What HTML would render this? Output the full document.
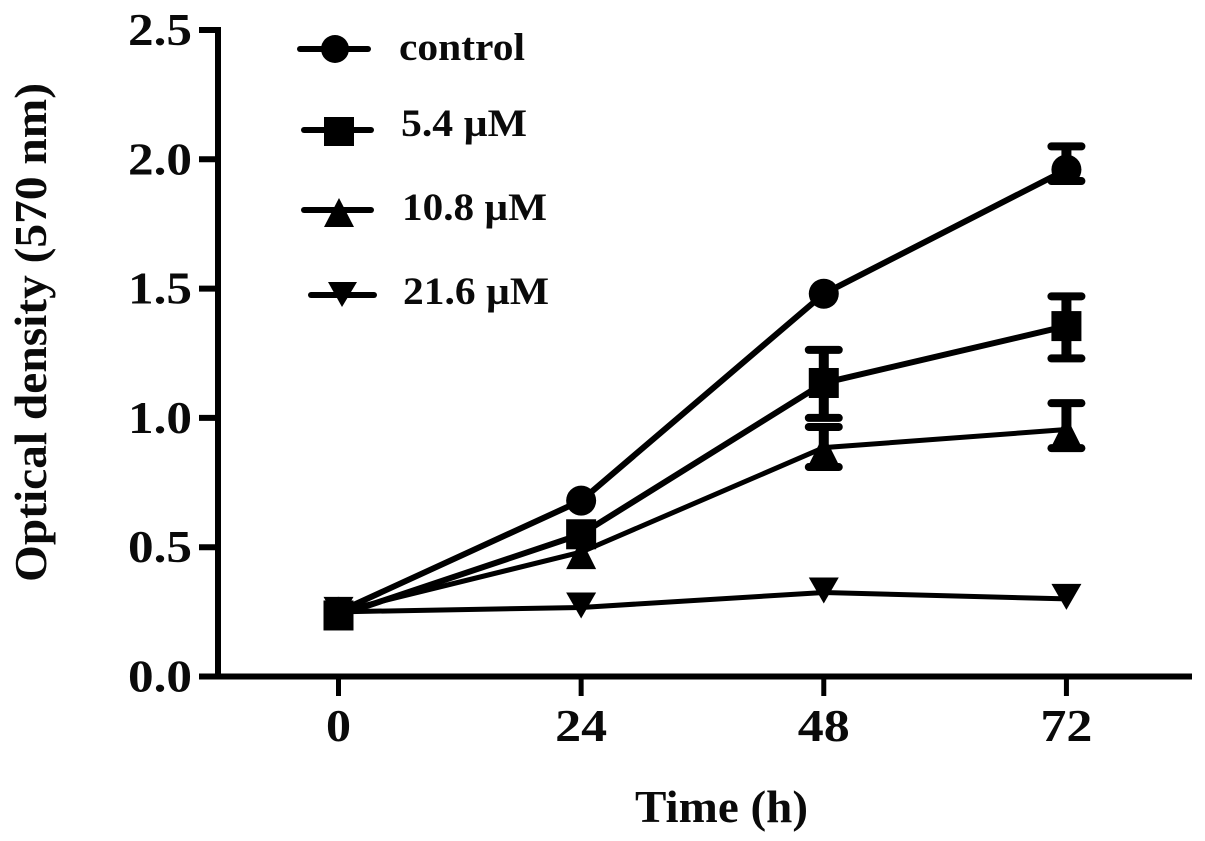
<!DOCTYPE html>
<html lang="en">
<head>
<meta charset="utf-8">
<title>Optical density over time</title>
<style>
html,body{margin:0;padding:0;background:#fff;width:1205px;height:841px;overflow:hidden}
svg{display:block}
text{font-family:"Liberation Serif",serif;font-weight:bold;fill:#0a0a0a}
</style>
</head>
<body>
<svg id="chart" width="1205" height="841" viewBox="0 0 1205 841" xmlns="http://www.w3.org/2000/svg">
<rect x="0" y="0" width="1205" height="841" fill="#fff"/>
<text transform="translate(46,582) rotate(-90)" font-size="46" textLength="499" lengthAdjust="spacingAndGlyphs">Optical density (570 nm)</text>
<text x="635" y="822" font-size="46" textLength="173" lengthAdjust="spacingAndGlyphs">Time (h)</text>
<g id="axes"></g>
<g id="series"></g>
<g id="legend">
<g>
<line x1="300" y1="49" x2="368" y2="49" stroke="#000" stroke-width="6" stroke-linecap="round"/>
<circle cx="335" cy="49" r="14" fill="#000"/>
<text x="399" y="60" font-size="39" textLength="126" lengthAdjust="spacingAndGlyphs">control</text>
</g>
<g>
<line x1="304" y1="130" x2="371" y2="130" stroke="#000" stroke-width="6" stroke-linecap="round"/>
<rect x="324" y="117" width="30" height="29" fill="#000"/>
<text x="401" y="136" font-size="39" textLength="126" lengthAdjust="spacingAndGlyphs">5.4 µM</text>
</g>
<g>
<line x1="304" y1="210" x2="371" y2="210" stroke="#000" stroke-width="6" stroke-linecap="round"/>
<polygon points="339,198 354,227 324,227" fill="#000"/>
<text x="402" y="220" font-size="39" textLength="145" lengthAdjust="spacingAndGlyphs">10.8 µM</text>
</g>
<g>
<line x1="311" y1="295" x2="374" y2="295" stroke="#000" stroke-width="6" stroke-linecap="round"/>
<polygon points="328,282 357,282 342,307" fill="#000"/>
<text x="403" y="304" font-size="39" textLength="146" lengthAdjust="spacingAndGlyphs">21.6 µM</text>
</g>
</g>
</svg>
<script>
var hours = [0, 24, 48, 72];
var yTicks = [0, 0.5, 1, 1.5, 2, 2.5];
var yTickLabels = ['0.0', '0.5', '1.0', '1.5', '2.0', '2.5'];
var xTickLabels = ['0', '24', '48', '72'];

var control = [0.25, 0.68, 1.48, 1.96];
var controlHigh = [0.25, 0.68, 1.48, 2.05];
var controlLow = [0.25, 0.68, 1.48, 1.916];

var dose54 = [0.236, 0.55, 1.135, 1.355];
var dose54High = [0.236, 0.55, 1.263, 1.47];
var dose54Low = [0.236, 0.55, 1.0, 1.23];

var dose108 = [0.25, 0.481, 0.885, 0.955];
var dose108High = [0.25, 0.481, 0.965, 1.057];
var dose108Low = [0.25, 0.481, 0.81, 0.883];

var dose216 = [0.25, 0.267, 0.325, 0.30];
var dose216High = [0.25, 0.267, 0.325, 0.30];
var dose216Low = [0.25, 0.267, 0.325, 0.30];

var NS = 'http://www.w3.org/2000/svg';
function xScale(h) { return 338.5 + h * 10.11; }
function yScale(v) { return 676.5 - v * 258.6; }
function make(tag, parent, attrs) {
  var el = document.createElementNS(NS, tag);
  for (var k in attrs) el.setAttribute(k, attrs[k]);
  parent.appendChild(el);
  return el;
}
var axes = document.getElementById('axes');
var seriesRoot = document.getElementById('series');
var black = '#000';
var el;

el = make('line', axes, {x1: 218, y1: yScale(2.5) - 3, x2: 218, y2: yScale(0) + 3, stroke: black, 'stroke-width': 6});


el = make('line', axes, {x1: 199, y1: yScale(0), x2: 1192, y2: yScale(0), stroke: black, 'stroke-width': 6});



yTicks.forEach(function (v, i) {
  var t = make('line', axes, {x1: 199, y1: yScale(v), x2: 218, y2: yScale(v), stroke: black, 'stroke-width': 6});
  
  
  var lab = make('text', axes, {x: 128, y: yScale(v) + 15, 'font-size': 46, textLength: 64, lengthAdjust: 'spacingAndGlyphs'});
  lab.textContent = yTickLabels[i];
  
  
});

hours.forEach(function (h, i) {
  var t = make('line', axes, {x1: xScale(h), y1: yScale(0), x2: xScale(h), y2: 696, stroke: black, 'stroke-width': 5});
  
  
  var w = xTickLabels[i].length === 1 ? 25 : 52;
  var lab = make('text', axes, {x: xScale(h) - w / 2, y: 741, 'font-size': 46, textLength: w, lengthAdjust: 'spacingAndGlyphs'});
  lab.textContent = xTickLabels[i];
  
  
});

function marker(kind, g, x, y) {
  if (kind === 'circle') return make('circle', g, {cx: x, cy: y, r: 15, fill: black});
  if (kind === 'square') return make('rect', g, {x: x - 15, y: y - 15, width: 30, height: 30, fill: black});
  if (kind === 'up') return make('polygon', g, {points: (x) + ',' + (y - 13) + ' ' + (x + 15) + ',' + (y + 17) + ' ' + (x - 15) + ',' + (y + 17), fill: black});
  return make('polygon', g, {points: (x - 15) + ',' + (y - 15) + ' ' + (x + 15) + ',' + (y - 15) + ' ' + x + ',' + (y + 11), fill: black});
}

function drawSeries(name, kind, width, values, high, low) {
  var g = make('g', seriesRoot, {});
  
  
  var pts = values.map(function (v, i) { return xScale(hours[i]) + ',' + yScale(v); }).join(' ');
  var line = make('polyline', g, {points: pts, fill: 'none', stroke: black, 'stroke-width': width});
  
  
  values.forEach(function (v, i) {
    var x = xScale(hours[i]);
    if (high[i] !== low[i]) {
      var stem = make('line', g, {x1: x, y1: yScale(high[i]), x2: x, y2: yScale(low[i]), stroke: black, 'stroke-width': 10});
      
      
      [high[i], low[i]].forEach(function (e) {
        var cap = make('line', g, {x1: x - 15, y1: yScale(e), x2: x + 15, y2: yScale(e), stroke: black, 'stroke-width': 8, 'stroke-linecap': 'round'});
        
        
      });
    }
    var m = marker(kind, g, x, yScale(v));
    
    
  });
}

drawSeries('control', 'circle', 6, control, controlHigh, controlLow);
drawSeries('dose-21-6', 'down', 5, dose216, dose216High, dose216Low);
drawSeries('dose-10-8', 'up', 5, dose108, dose108High, dose108Low);
drawSeries('dose-5-4', 'square', 6, dose54, dose54High, dose54Low);
</script>
</body>
</html>
